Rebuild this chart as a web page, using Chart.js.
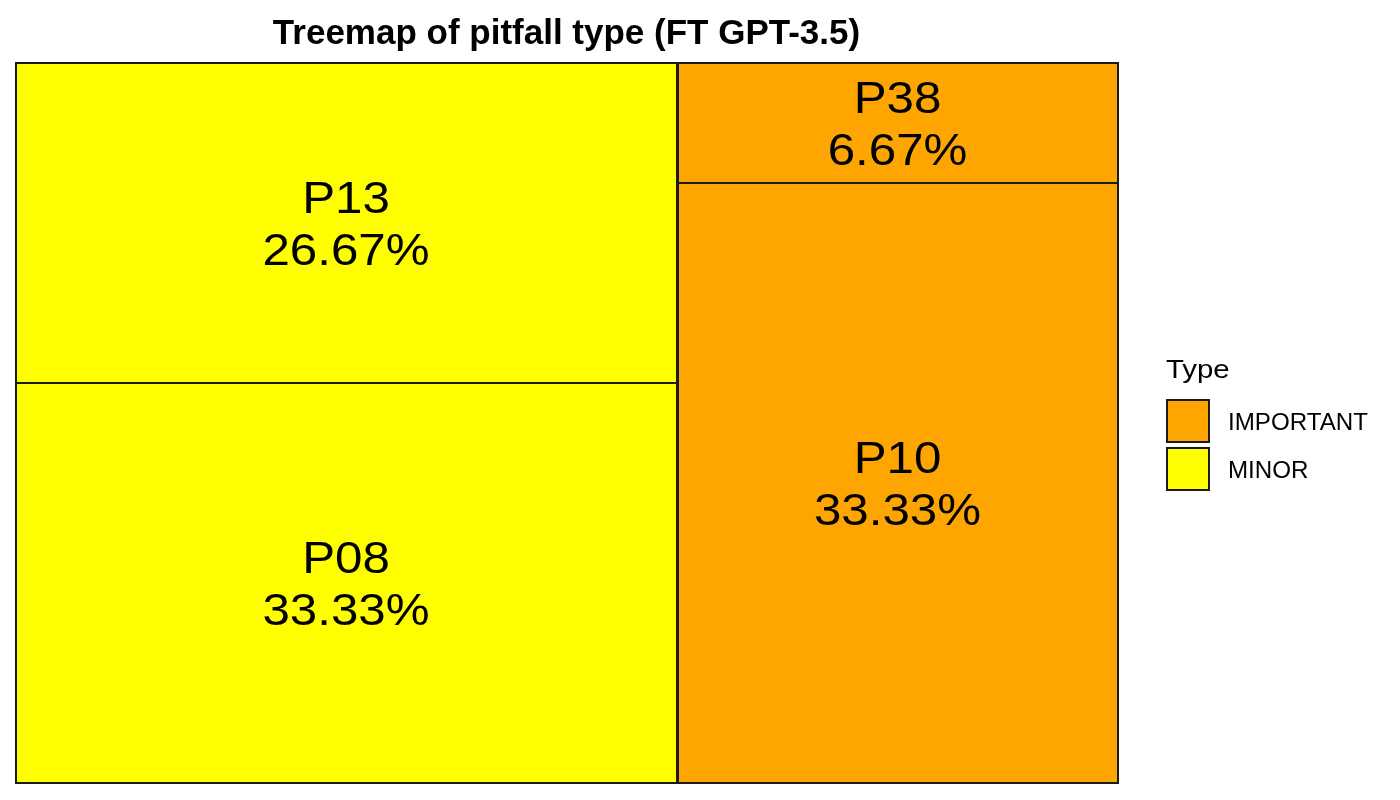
<!DOCTYPE html>
<html>
<head>
<meta charset="utf-8">
<title>Treemap of pitfall type (FT GPT-3.5)</title>
<script src="https://cdn.jsdelivr.net/npm/chart.js@4.4.0/dist/chart.umd.min.js"></script>
<style>
  html, body { margin: 0; padding: 0; background: #fff; }
  #wrap { width: 1400px; height: 800px; position: relative; }
</style>
</head>
<body>
<div id="wrap"><canvas id="treemap"></canvas></div>
<script>
// pitfall cells, in drawing order
const pitfalls = ["P13", "P08", "P38", "P10"];
const pitfallTypes = ["MINOR", "MINOR", "IMPORTANT", "IMPORTANT"];
const shares = [26.67, 33.33, 6.67, 33.33];

// legend entries
const typeNames = ["IMPORTANT", "MINOR"];

const typeColors = { IMPORTANT: "#FFA500", MINOR: "#FFFF00" };
const FONT = "'Liberation Sans', Arial, sans-serif";

// slice-and-dice layout in data units (0..100 on both axes)
function layoutCells() {
  const total = shares.reduce((a, b) => a + b, 0);
  const order = [];
  pitfallTypes.forEach((t) => { if (!order.includes(t)) order.push(t); });
  const cells = [];
  const groups = [];
  let x0 = 0;
  order.forEach((t) => {
    const idx = pitfallTypes.map((g, i) => (g === t ? i : -1)).filter((i) => i >= 0);
    const groupSum = idx.reduce((s, i) => s + shares[i], 0);
    const x1 = x0 + (groupSum / total) * 100;
    let y0 = 0;
    idx.forEach((i) => {
      const y1 = y0 + (shares[i] / groupSum) * 100;
      cells.push({ i, x0, x1, y0, y1 });
      y0 = y1;
    });
    groups.push({ x0, x1, y0: 0, y1: 100 });
    x0 = x1;
  });
  return { cells, groups };
}

// text a little wider than the font, like the original renderer
function wideText(ctx, text, x, y, size, stretch, align) {
  ctx.save();
  ctx.font = size + "px " + FONT;
  ctx.textAlign = align;
  ctx.textBaseline = "alphabetic";
  ctx.translate(x, y);
  ctx.scale(stretch, 1);
  ctx.fillText(text, 0, 0);
  ctx.restore();
}

const treemapPlugin = {
  id: "treemapCells",
  afterDatasetsDraw(chart) {
    const { ctx } = chart;
    const xs = chart.scales.x;
    const ys = chart.scales.y;
    const { cells, groups } = layoutCells();
    const px = (v) => Math.round(xs.getPixelForValue(v));
    const py = (v) => Math.round(ys.getPixelForValue(v));

    ctx.save();
    cells.forEach((c) => {
      const l = px(c.x0), r = px(c.x1), t = py(c.y0), b = py(c.y1);
      ctx.fillStyle = typeColors[pitfallTypes[c.i]];
      ctx.fillRect(l, t, r - l, b - t);
      ctx.strokeStyle = "#1a1a1a";
      ctx.lineWidth = 1;
      ctx.strokeRect(l + 0.5, t + 0.5, r - l - 1, b - t - 1);
    });
    groups.forEach((g) => {
      const l = px(g.x0), r = px(g.x1), t = py(g.y0), b = py(g.y1);
      ctx.strokeStyle = "#1a1a1a";
      ctx.lineWidth = 2;
      ctx.strokeRect(l + 1, t, r - l - 1, b - t);
    });

    ctx.fillStyle = "#000";
    cells.forEach((c) => {
      const cx = (px(c.x0) + px(c.x1)) / 2;
      const cy = (py(c.y0) + py(c.y1)) / 2;
      wideText(ctx, pitfalls[c.i], cx, cy - 10, 44, 1.12, "center");
      wideText(ctx, shares[c.i].toFixed(2) + "%", cx, cy + 42, 44, 1.12, "center");
    });

    // legend
    const area = chart.chartArea;
    const lx = area.right + 48;
    const mid = (area.top + area.bottom) / 2;
    wideText(ctx, "Type", lx, mid - 45, 26, 1.13, "left");
    typeNames.forEach((name, k) => {
      const by = Math.round(mid - 24 + k * 48);
      ctx.fillStyle = typeColors[name];
      ctx.fillRect(lx, by, 44, 44);
      ctx.strokeStyle = "#1a1a1a";
      ctx.lineWidth = 2;
      ctx.strokeRect(lx + 1, by + 1, 42, 42);
      ctx.fillStyle = "#000";
      wideText(ctx, name, lx + 62, by + 31, 23, 1.05, "left");
    });
    ctx.restore();
  }
};

new Chart(document.getElementById("treemap"), {
  type: "scatter",
  data: { datasets: [{ data: [], pointRadius: 0 }] },
  options: {
    responsive: true,
    maintainAspectRatio: false,
    animation: false,
    events: [],
    layout: { padding: { left: 15, right: 282, top: 0, bottom: 17 } },
    scales: {
      x: { type: "linear", min: 0, max: 100, display: false },
      y: { type: "linear", min: 0, max: 100, reverse: true, display: false }
    },
    plugins: {
      legend: { display: false },
      tooltip: { enabled: false },
      title: {
        display: true,
        text: "Treemap of pitfall type (FT GPT-3.5)",
        color: "#000",
        font: { family: FONT, size: 35, weight: "bold", lineHeight: 1.2 },
        padding: { top: 13.5, bottom: 7.5 }
      }
    }
  },
  plugins: [treemapPlugin]
});
</script>
</body>
</html>
